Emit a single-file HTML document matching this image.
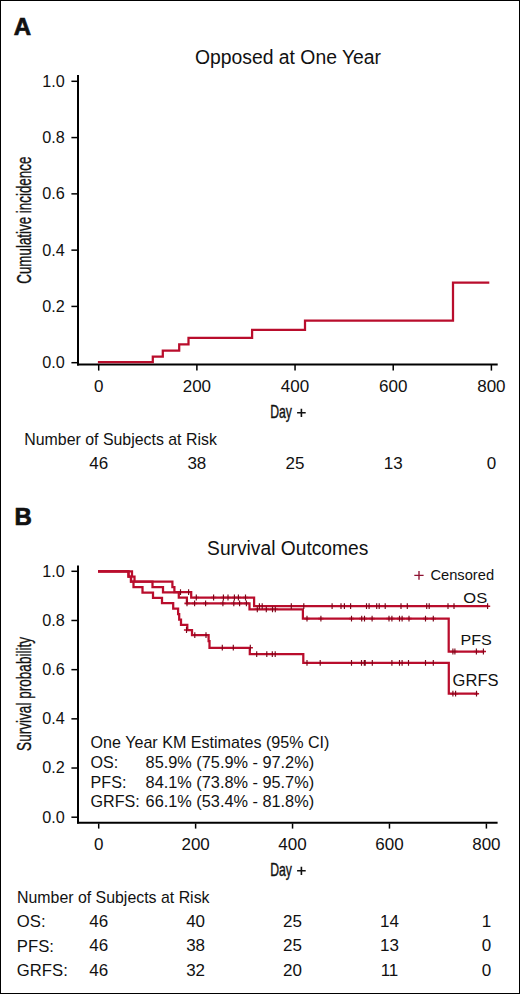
<!DOCTYPE html>
<html><head><meta charset="utf-8"><title>Figure</title>
<style>
html,body{margin:0;padding:0;background:#fff;}
body{width:520px;height:994px;overflow:hidden;}
svg{display:block;}
svg text{font-family:"Liberation Sans", sans-serif;fill:#111;}
</style></head>
<body>
<svg width="520" height="994" viewBox="0 0 520 994">
<rect x="0.5" y="0.5" width="519" height="993" fill="#fff" stroke="#000" stroke-width="1"/>
<text x="13.7" y="34.7" font-size="24" font-weight="bold" stroke="#111" stroke-width="0.7">A</text>
<text transform="translate(288 64) scale(0.958 1)" font-size="20.2" text-anchor="middle">Opposed at One Year</text>
<line x1="78" y1="75" x2="78" y2="365.5" stroke="#000" stroke-width="2"/>
<line x1="77" y1="364.6" x2="497.7" y2="364.6" stroke="#000" stroke-width="2"/>
<line x1="71.4" y1="362.7" x2="78" y2="362.7" stroke="#000" stroke-width="1.5"/>
<text transform="translate(64.8 368.1) scale(1.04 1)" font-size="15.6" text-anchor="end">0.0</text>
<line x1="71.4" y1="306.42" x2="78" y2="306.42" stroke="#000" stroke-width="1.5"/>
<text transform="translate(64.8 311.82) scale(1.04 1)" font-size="15.6" text-anchor="end">0.2</text>
<line x1="71.4" y1="250.14" x2="78" y2="250.14" stroke="#000" stroke-width="1.5"/>
<text transform="translate(64.8 255.54) scale(1.04 1)" font-size="15.6" text-anchor="end">0.4</text>
<line x1="71.4" y1="193.86" x2="78" y2="193.86" stroke="#000" stroke-width="1.5"/>
<text transform="translate(64.8 199.26) scale(1.04 1)" font-size="15.6" text-anchor="end">0.6</text>
<line x1="71.4" y1="137.58" x2="78" y2="137.58" stroke="#000" stroke-width="1.5"/>
<text transform="translate(64.8 142.98) scale(1.04 1)" font-size="15.6" text-anchor="end">0.8</text>
<line x1="71.4" y1="81.3" x2="78" y2="81.3" stroke="#000" stroke-width="1.5"/>
<text transform="translate(64.8 86.7) scale(1.04 1)" font-size="15.6" text-anchor="end">1.0</text>
<line x1="98.7" y1="365" x2="98.7" y2="370.6" stroke="#000" stroke-width="1.5"/>
<text transform="translate(98.7 392.2) scale(1.05 1)" font-size="16.2" text-anchor="middle">0</text>
<text transform="translate(98.7 468.8) scale(1.05 1)" font-size="16.2" text-anchor="middle">46</text>
<line x1="196.88" y1="365" x2="196.88" y2="370.6" stroke="#000" stroke-width="1.5"/>
<text transform="translate(196.88 392.2) scale(1.05 1)" font-size="16.2" text-anchor="middle">200</text>
<text transform="translate(196.88 468.8) scale(1.05 1)" font-size="16.2" text-anchor="middle">38</text>
<line x1="295.05" y1="365" x2="295.05" y2="370.6" stroke="#000" stroke-width="1.5"/>
<text transform="translate(295.05 392.2) scale(1.05 1)" font-size="16.2" text-anchor="middle">400</text>
<text transform="translate(295.05 468.8) scale(1.05 1)" font-size="16.2" text-anchor="middle">25</text>
<line x1="393.22" y1="365" x2="393.22" y2="370.6" stroke="#000" stroke-width="1.5"/>
<text transform="translate(393.22 392.2) scale(1.05 1)" font-size="16.2" text-anchor="middle">600</text>
<text transform="translate(393.22 468.8) scale(1.05 1)" font-size="16.2" text-anchor="middle">13</text>
<line x1="491.4" y1="365" x2="491.4" y2="370.6" stroke="#000" stroke-width="1.5"/>
<text transform="translate(491.4 392.2) scale(1.05 1)" font-size="16.2" text-anchor="middle">800</text>
<text transform="translate(491.4 468.8) scale(1.05 1)" font-size="16.2" text-anchor="middle">0</text>
<text transform="translate(30.9 220.2) rotate(-90) scale(0.65 1)" font-size="20.6" stroke="#111" stroke-width="0.35" text-anchor="middle">Cumulative incidence</text>
<text transform="translate(270.2 418.3) scale(0.665 1)" font-size="18.4" stroke="#111" stroke-width="0.4">Day</text>
<path d="M297.1 412.8 H305.7 M301.4 408.7 V416.9" stroke="#111" stroke-width="1.6"/>
<text x="24.3" y="444.6" font-size="15.9">Number of Subjects at Risk</text>
<path d="M97.9 362.1 H152.8 V356.5 H162.8 V350.5 H179.2 V344.3 H188.5 V337.9 H252.1 V329.8 H305 V320.6 H453 V282.7 H489.3" fill="none" stroke="#b90d2c" stroke-width="2.25"/>
<text x="14.6" y="524.6" font-size="24" font-weight="bold" stroke="#111" stroke-width="0.7">B</text>
<text transform="translate(287.7 554.8) scale(0.966 1)" font-size="19.9" text-anchor="middle">Survival Outcomes</text>
<line x1="78" y1="565.5" x2="78" y2="823.6" stroke="#000" stroke-width="2"/>
<line x1="77" y1="822.7" x2="497.6" y2="822.7" stroke="#000" stroke-width="2"/>
<line x1="71.4" y1="817.2" x2="78" y2="817.2" stroke="#000" stroke-width="1.5"/>
<text transform="translate(64.8 822.6) scale(1.04 1)" font-size="15.6" text-anchor="end">0.0</text>
<line x1="71.4" y1="768.02" x2="78" y2="768.02" stroke="#000" stroke-width="1.5"/>
<text transform="translate(64.8 773.42) scale(1.04 1)" font-size="15.6" text-anchor="end">0.2</text>
<line x1="71.4" y1="718.84" x2="78" y2="718.84" stroke="#000" stroke-width="1.5"/>
<text transform="translate(64.8 724.24) scale(1.04 1)" font-size="15.6" text-anchor="end">0.4</text>
<line x1="71.4" y1="669.66" x2="78" y2="669.66" stroke="#000" stroke-width="1.5"/>
<text transform="translate(64.8 675.06) scale(1.04 1)" font-size="15.6" text-anchor="end">0.6</text>
<line x1="71.4" y1="620.48" x2="78" y2="620.48" stroke="#000" stroke-width="1.5"/>
<text transform="translate(64.8 625.88) scale(1.04 1)" font-size="15.6" text-anchor="end">0.8</text>
<line x1="71.4" y1="571.3" x2="78" y2="571.3" stroke="#000" stroke-width="1.5"/>
<text transform="translate(64.8 576.7) scale(1.04 1)" font-size="15.6" text-anchor="end">1.0</text>
<line x1="98.7" y1="823.5" x2="98.7" y2="828.6" stroke="#000" stroke-width="1.5"/>
<text transform="translate(98.7 849.8) scale(1.05 1)" font-size="16.2" text-anchor="middle">0</text>
<text transform="translate(98.7 926.9) scale(1.05 1)" font-size="16.2" text-anchor="middle">46</text>
<text transform="translate(98.7 951.3) scale(1.05 1)" font-size="16.2" text-anchor="middle">46</text>
<text transform="translate(98.7 975.8) scale(1.05 1)" font-size="16.2" text-anchor="middle">46</text>
<line x1="195.62" y1="823.5" x2="195.62" y2="828.6" stroke="#000" stroke-width="1.5"/>
<text transform="translate(195.62 849.8) scale(1.05 1)" font-size="16.2" text-anchor="middle">200</text>
<text transform="translate(195.62 926.9) scale(1.05 1)" font-size="16.2" text-anchor="middle">40</text>
<text transform="translate(195.62 951.3) scale(1.05 1)" font-size="16.2" text-anchor="middle">38</text>
<text transform="translate(195.62 975.8) scale(1.05 1)" font-size="16.2" text-anchor="middle">32</text>
<line x1="292.55" y1="823.5" x2="292.55" y2="828.6" stroke="#000" stroke-width="1.5"/>
<text transform="translate(292.55 849.8) scale(1.05 1)" font-size="16.2" text-anchor="middle">400</text>
<text transform="translate(292.55 926.9) scale(1.05 1)" font-size="16.2" text-anchor="middle">25</text>
<text transform="translate(292.55 951.3) scale(1.05 1)" font-size="16.2" text-anchor="middle">25</text>
<text transform="translate(292.55 975.8) scale(1.05 1)" font-size="16.2" text-anchor="middle">20</text>
<line x1="389.47" y1="823.5" x2="389.47" y2="828.6" stroke="#000" stroke-width="1.5"/>
<text transform="translate(389.47 849.8) scale(1.05 1)" font-size="16.2" text-anchor="middle">600</text>
<text transform="translate(389.47 926.9) scale(1.05 1)" font-size="16.2" text-anchor="middle">14</text>
<text transform="translate(389.47 951.3) scale(1.05 1)" font-size="16.2" text-anchor="middle">13</text>
<text transform="translate(389.47 975.8) scale(1.05 1)" font-size="16.2" text-anchor="middle">11</text>
<line x1="486.4" y1="823.5" x2="486.4" y2="828.6" stroke="#000" stroke-width="1.5"/>
<text transform="translate(486.4 849.8) scale(1.05 1)" font-size="16.2" text-anchor="middle">800</text>
<text transform="translate(486.4 926.9) scale(1.05 1)" font-size="16.2" text-anchor="middle">1</text>
<text transform="translate(486.4 951.3) scale(1.05 1)" font-size="16.2" text-anchor="middle">0</text>
<text transform="translate(486.4 975.8) scale(1.05 1)" font-size="16.2" text-anchor="middle">0</text>
<text transform="translate(30.9 693.9) rotate(-90) scale(0.66 1)" font-size="20.6" stroke="#111" stroke-width="0.35" text-anchor="middle">Survival probability</text>
<text transform="translate(270.2 876.1) scale(0.665 1)" font-size="18.4" stroke="#111" stroke-width="0.4">Day</text>
<path d="M297.1 870.8 H305.7 M301.4 866.7 V874.9" stroke="#111" stroke-width="1.6"/>
<text x="17" y="902.5" font-size="15.9">Number of Subjects at Risk</text>
<text transform="translate(16.8 927.4) scale(1.05 1)" font-size="15.9">OS:</text>
<text transform="translate(16.8 951.8) scale(1.05 1)" font-size="15.9">PFS:</text>
<text transform="translate(16.8 976.3) scale(1.05 1)" font-size="15.9">GRFS:</text>
<path d="M414.3 575.4 H423.6 M419 571.1 V579.8" stroke="#8e1232" stroke-width="1.35"/>
<text x="430.4" y="579.7" font-size="14.7">Censored</text>
<text transform="translate(463.3 602.9) scale(1.08 1)" font-size="15.3">OS</text>
<text transform="translate(460.4 644.7) scale(1.04 1)" font-size="15.5">PFS</text>
<text transform="translate(452.6 685.5) scale(1.06 1)" font-size="15.6">GRFS</text>
<text x="90.6" y="748.1" font-size="16.1">One Year KM Estimates (95% CI)</text>
<text x="90.6" y="767.8" font-size="16.1">OS:</text>
<text x="145.6" y="767.8" font-size="16.3">85.9% (75.9% - 97.2%)</text>
<text x="90.6" y="787.6" font-size="16.1">PFS:</text>
<text x="145.6" y="787.6" font-size="16.3">84.1% (73.8% - 95.7%)</text>
<text x="90.6" y="807.2" font-size="16.1">GRFS:</text>
<text x="145.6" y="807.2" font-size="16.3">66.1% (53.4% - 81.8%)</text>
<path d="M98 571.4 H132 V576.5 H134.5 V581.7 H172.4 V587.2 H174.4 V592.2 H191.2 V597.5 H254.1 V606.2 H488.2" fill="none" stroke="#b90d2c" stroke-width="2.25"/>
<path d="M98 571.4 H128.5 V576.5 H131 V581.7 H152.5 V587.2 H163 V592.4 H178.8 V597.6 H186.9 V603.4 H249.5 V609.3 H302.9 V618.6 H448.7 V651.5 H484.2" fill="none" stroke="#b90d2c" stroke-width="2.25"/>
<path d="M98 571.4 H128.5 V576.5 H131 V581.7 H133.5 V587.2 H142.5 V592.5 H153 V597.9 H162 V603.2 H173.2 V608.7 H178.1 V614 H179.2 V619.6 H181 V624.8 H187.3 V630 H192 V635.2 H208.6 V641 H209.5 V647.8 H249.8 V654.2 H303.3 V662.8 H448.8 V693.7 H477.5" fill="none" stroke="#b90d2c" stroke-width="2.25"/>
<path d="M177.9 592.2 H183.1 M186 592.2 H191.2 M193.7 597.5 H198.9 M211 597.5 H216.2 M220.8 597.5 H226 M225.4 597.5 H230.6 M231.8 597.5 H237 M235.8 597.5 H241 M242.9 597.5 H248.1 M256.8 606.2 H262 M259.6 606.2 H264.8 M288.7 606.2 H293.9 M301.2 606.2 H306.4 M329.5 606.2 H334.7 M338.4 606.2 H343.6 M341.8 606.2 H347 M348 606.2 H353.2 M363.9 606.2 H369.1 M366.5 606.2 H371.7 M374.1 606.2 H379.3 M376.6 606.2 H381.8 M382.6 606.2 H387.8 M398.4 606.2 H403.6 M404.7 606.2 H409.9 M424.1 606.2 H429.3 M426.6 606.2 H431.8 M445.4 606.2 H450.6 M451.4 606.2 H456.6 M485 606.2 H490.2 M184.4 603.4 H189.6 M192 603.4 H197.2 M203 603.4 H208.2 M220.3 603.4 H225.5 M231.2 603.4 H236.4 M237 603.4 H242.2 M243.8 603.4 H249 M254.7 609.3 H259.9 M263.7 609.3 H268.9 M269.9 609.3 H275.1 M272.7 609.3 H277.9 M304.4 618.6 H309.6 M318.3 618.6 H323.5 M348.9 618.6 H354.1 M359.1 618.6 H364.3 M361.9 618.6 H367.1 M369.5 618.6 H374.7 M386.4 618.6 H391.6 M389.3 618.6 H394.5 M396.9 618.6 H402.1 M399.5 618.6 H404.7 M406.4 618.6 H411.6 M422.9 618.6 H428.1 M430.7 618.6 H435.9 M450.3 651.5 H455.5 M452.3 651.5 H457.5 M473.8 651.5 H479 M480.8 651.5 H486 M183.9 630 H189.1 M192.2 635.2 H197.4 M203.4 635.2 H208.6 M219.7 647.7 H224.9 M230.7 647.7 H235.9 M247.7 647.7 H252.9 M254.1 654.2 H259.3 M264.2 654.2 H269.4 M269.7 654.2 H274.9 M272.6 654.2 H277.8 M304.4 662.8 H309.6 M317.6 662.8 H322.8 M348.9 662.8 H354.1 M358.9 662.8 H364.1 M361.7 662.8 H366.9 M362.6 662.8 H367.8 M369.7 662.8 H374.9 M389.3 662.8 H394.5 M396.9 662.8 H402.1 M399.5 662.8 H404.7 M405.9 662.8 H411.1 M422.9 662.8 H428.1 M430.7 662.8 H435.9 M450.3 693.7 H455.5 M453 693.7 H458.2 M473.9 693.7 H479.1" stroke="#b90d2c" stroke-width="1.6" fill="none"/>
<path d="M180.5 589.3 V595.1 M188.6 589.3 V595.1 M196.3 594.6 V600.4 M213.6 594.6 V600.4 M223.4 594.6 V600.4 M228 594.6 V600.4 M234.4 594.6 V600.4 M238.4 594.6 V600.4 M245.5 594.6 V600.4 M259.4 603.3 V609.1 M262.2 603.3 V609.1 M291.3 603.3 V609.1 M303.8 603.3 V609.1 M332.1 603.3 V609.1 M341 603.3 V609.1 M344.4 603.3 V609.1 M350.6 603.3 V609.1 M366.5 603.3 V609.1 M369.1 603.3 V609.1 M376.7 603.3 V609.1 M379.2 603.3 V609.1 M385.2 603.3 V609.1 M401 603.3 V609.1 M407.3 603.3 V609.1 M426.7 603.3 V609.1 M429.2 603.3 V609.1 M448 603.3 V609.1 M454 603.3 V609.1 M487.6 603.3 V609.1 M187 600.5 V606.3 M194.6 600.5 V606.3 M205.6 600.5 V606.3 M222.9 600.5 V606.3 M233.8 600.5 V606.3 M239.6 600.5 V606.3 M246.4 600.5 V606.3 M257.3 606.4 V612.2 M266.3 606.4 V612.2 M272.5 606.4 V612.2 M275.3 606.4 V612.2 M307 615.7 V621.5 M320.9 615.7 V621.5 M351.5 615.7 V621.5 M361.7 615.7 V621.5 M364.5 615.7 V621.5 M372.1 615.7 V621.5 M389 615.7 V621.5 M391.9 615.7 V621.5 M399.5 615.7 V621.5 M402.1 615.7 V621.5 M409 615.7 V621.5 M425.5 615.7 V621.5 M433.3 615.7 V621.5 M452.9 648.6 V654.4 M454.9 648.6 V654.4 M476.4 648.6 V654.4 M483.4 648.6 V654.4 M186.5 627.1 V632.9 M194.8 632.3 V638.1 M206 632.3 V638.1 M222.3 644.8 V650.6 M233.3 644.8 V650.6 M250.3 644.8 V650.6 M256.7 651.3 V657.1 M266.8 651.3 V657.1 M272.3 651.3 V657.1 M275.2 651.3 V657.1 M307 659.9 V665.7 M320.2 659.9 V665.7 M351.5 659.9 V665.7 M361.5 659.9 V665.7 M364.3 659.9 V665.7 M365.2 659.9 V665.7 M372.3 659.9 V665.7 M391.9 659.9 V665.7 M399.5 659.9 V665.7 M402.1 659.9 V665.7 M408.5 659.9 V665.7 M425.5 659.9 V665.7 M433.3 659.9 V665.7 M452.9 690.8 V696.6 M455.6 690.8 V696.6 M476.5 690.8 V696.6" stroke="#7a0619" stroke-width="1.15" fill="none"/>
</svg>
</body></html>
